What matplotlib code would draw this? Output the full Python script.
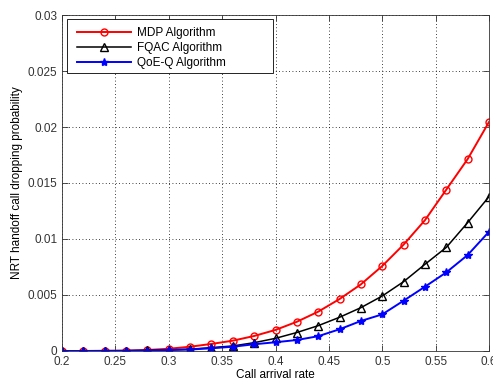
import matplotlib
matplotlib.use("Agg")
import matplotlib.pyplot as plt
from matplotlib.patches import Rectangle

plt.rcParams['font.family'] = ['Liberation Sans', 'DejaVu Sans']

x = [0.20, 0.22, 0.24, 0.26, 0.28, 0.30, 0.32, 0.34, 0.36, 0.38, 0.40,
     0.42, 0.44, 0.46, 0.48, 0.50, 0.52, 0.54, 0.56, 0.58, 0.60]
mdp = [0.0, 0.0, 0.00001, 0.00003, 0.00009, 0.0002, 0.00038, 0.00063, 0.00092, 0.00134, 0.00188,
       0.00261, 0.00351, 0.00464, 0.00595, 0.00759, 0.0095, 0.01168, 0.01441, 0.01714, 0.02045]
fqac = [0.0, 0.0, 0.00001, 0.00002, 0.00005, 0.0001, 0.00016, 0.0003, 0.00045, 0.00074, 0.00113,
        0.00165, 0.00226, 0.00301, 0.00387, 0.00491, 0.00619, 0.00774, 0.00925, 0.01146, 0.01378]
qoeq = [0.0, 0.0, 0.00001, 0.00002, 0.00004, 0.00008, 0.00013, 0.00024, 0.00038, 0.0006, 0.00078,
        0.00098, 0.00132, 0.00194, 0.00268, 0.00327, 0.00449, 0.00574, 0.00702, 0.00857, 0.01065]
labels = ['MDP Algorithm', 'FQAC Algorithm', 'QoE-Q Algorithm']

fig = plt.figure(figsize=(4.93, 3.82), dpi=100)
ax = fig.add_axes([0.1258, 0.0812, 0.8661, 0.8795])

ax.plot(x, mdp, color='red', marker='o', markersize=5, markerfacecolor='none',
        markeredgecolor='red', linewidth=1.4, label=labels[0])
ax.plot(x, fqac, color='black', marker='^', markersize=6, markerfacecolor='none',
        markeredgecolor='black', linewidth=1.1, label=labels[1])
ax.plot(x, qoeq, color='blue', marker='*', markersize=6, markerfacecolor='blue',
        markeredgecolor='blue', linewidth=1.4, label=labels[2])

ax.set_xlim(0.2, 0.6)
ax.set_ylim(0, 0.03)
ax.set_xticks([0.2, 0.25, 0.3, 0.35, 0.4, 0.45, 0.5, 0.55, 0.6])
ax.set_xticklabels(['0.2', '0.25', '0.3', '0.35', '0.4', '0.45', '0.5', '0.55', '0.6'])
ax.set_yticks([0, 0.005, 0.01, 0.015, 0.02, 0.025, 0.03])
ax.set_yticklabels(['0', '0.005', '0.01', '0.015', '0.02', '0.025', '0.03'])
ax.tick_params(direction='in', top=True, right=True, labelsize=8.5, length=4, width=0.6,
               colors='#333333')
ax.grid(True, linestyle=(0, (1, 3)), color='black', linewidth=0.6)
for s in ax.spines.values():
    s.set_linewidth(0.6)
    s.set_color('#333333')

ax.set_xlabel('Call arrival rate', fontsize=8.5, labelpad=1)
ax.set_ylabel('NRT handoff call dropping probability', fontsize=8.5, labelpad=3)

# legend frame (MATLAB style, wide box)
frame = Rectangle((0.0117, 0.8274), 0.4824, 0.1607, transform=ax.transAxes,
                  facecolor='white', edgecolor='black', linewidth=0.6, zorder=4)
ax.add_patch(frame)
leg = ax.legend(loc='upper left', bbox_to_anchor=(0.0241, 0.979), fontsize=8.5,
                handlelength=4.6, handletextpad=0.45, frameon=False,
                borderaxespad=0.0, labelspacing=0.25, borderpad=0.4)
leg.set_zorder(5)

fig.savefig('out.png', dpi=100)
